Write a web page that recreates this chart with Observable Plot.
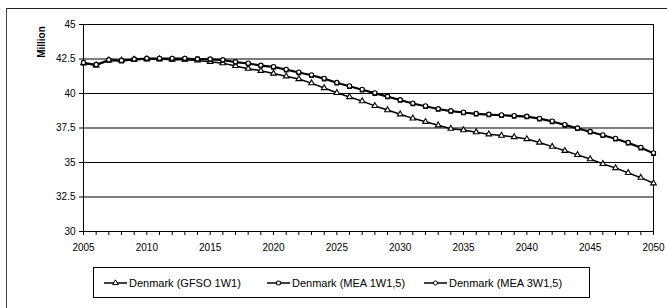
<!DOCTYPE html>
<html><head><meta charset="utf-8">
<script src="https://cdn.jsdelivr.net/npm/d3@7"></script>
<script src="https://cdn.jsdelivr.net/npm/@observablehq/plot@0.6"></script>
<style>
body{margin:0;background:#fff;font-family:"Liberation Sans",Arial,sans-serif;}
#wrap{position:relative;width:667px;height:308px;overflow:hidden;background:#fff;}
#wrap svg.plot{position:absolute;left:0;top:0;}
.border-top{position:absolute;left:6px;top:8px;width:661px;height:0;border-top:1px solid #222;}
.border-left{position:absolute;left:6px;top:8px;width:0;height:300px;border-left:1px solid #444;}
.ylab{position:absolute;left:41px;top:42px;transform:translate(-50%,-50%) rotate(-90deg);font-weight:bold;font-size:10px;color:#000;white-space:nowrap;}
.legend{position:absolute;left:93px;top:267px;width:497px;height:31px;border:1px solid #000;box-sizing:border-box;}
.item{position:absolute;top:0;height:29px;display:flex;align-items:center;font-size:11px;color:#000;white-space:nowrap;}
.item svg{margin-right:2px;}
</style></head><body><div id="wrap"></div>
<script>
const years = [2005,2006,2007,2008,2009,2010,2011,2012,2013,2014,
  2015,2016,2017,2018,2019,2020,2021,2022,2023,2024,
  2025,2026,2027,2028,2029,2030,2031,2032,2033,2034,
  2035,2036,2037,2038,2039,2040,2041,2042,2043,2044,
  2045,2046,2047,2048,2049,2050];
const gfso1w1 = [42.2,42.05,42.4,42.4,42.45,42.5,42.5,42.45,42.45,42.4,
  42.3,42.2,42.0,41.8,41.65,41.45,41.25,41.05,40.75,40.4,
  40.05,39.75,39.45,39.1,38.8,38.5,38.2,37.95,37.7,37.45,
  37.35,37.2,37.05,36.95,36.85,36.7,36.45,36.15,35.85,35.55,
  35.25,34.9,34.6,34.25,33.9,33.5];
const mea1w15 = [42.2,42.05,42.4,42.35,42.45,42.5,42.5,42.5,42.5,42.5,
  42.45,42.4,42.25,42.15,42.0,41.9,41.7,41.5,41.3,41.05,
  40.75,40.5,40.25,40.0,39.75,39.5,39.25,39.05,38.85,38.7,
  38.6,38.5,38.45,38.4,38.35,38.3,38.15,37.95,37.7,37.45,
  37.2,36.95,36.7,36.4,36.05,35.65];
const mea3w15 = [42.25,42.1,42.45,42.4,42.5,42.55,42.55,42.55,42.55,42.5,
  42.5,42.45,42.3,42.2,42.05,41.95,41.75,41.55,41.35,41.1,
  40.8,40.55,40.3,40.05,39.8,39.55,39.3,39.1,38.9,38.75,
  38.65,38.55,38.5,38.45,38.4,38.35,38.2,38.0,37.75,37.5,
  37.25,37.0,36.75,36.45,36.1,35.7];
const seriesNames = ["Denmark (GFSO 1W1)","Denmark (MEA 1W1,5)","Denmark (MEA 3W1,5)"];
const seriesSymbols = ["triangle","square","circle"];
const yTicks = [30,32.5,35,37.5,40,42.5,45];
const xLabelTicks = [2005,2010,2015,2020,2025,2030,2035,2040,2045,2050];

const seriesValues = [gfso1w1, mea1w15, mea3w15];
const rows = [];
seriesValues.forEach((vals, s) => vals.forEach((v, i) => rows.push({series: seriesNames[s], symbol: seriesSymbols[s], year: years[i], value: v})));

const marks = [
  Plot.ruleY(yTicks, {stroke: "#000", strokeWidth: 1.1}),
  Plot.ruleX([years[0], years[years.length-1]], {stroke: "#000", strokeWidth: 1}),
  Plot.axisY(yTicks, {tickSize: 4, tickPadding: 4, fontSize: 10, label: null, tickFormat: d => String(d), stroke: "#000"}),
  Plot.axisX(years, {tickSize: 4, tickPadding: 8, fontSize: 10, label: null, tickFormat: d => xLabelTicks.includes(d) ? String(d) : "", stroke: "#000"})
];
seriesNames.forEach((name, s) => {
  const data = rows.filter(r => r.series === name);
  marks.push(Plot.line(data, {x: "year", y: "value", stroke: "#000", strokeWidth: 1.5}));
  marks.push(Plot.dot(data, {x: "year", y: "value", symbol: () => seriesSymbols[s], r: 2.1, fill: "#fff", stroke: "#000", strokeWidth: 1.1}));
});

const chart = Plot.plot({
  width: 667, height: 308,
  marginLeft: 83, marginRight: 14, marginTop: 24, marginBottom: 77,
  x: {domain: [2005, 2050], axis: null},
  y: {domain: [30, 45], axis: null},
  symbol: {type: "identity"},
  style: {fontFamily: "Liberation Sans, Arial, sans-serif", fontSize: "10px", color: "#000", background: "transparent"},
  marks
});
chart.classList.add("plot");
const wrap = document.getElementById("wrap");
wrap.appendChild(chart);

const bt = document.createElement("div"); bt.className = "border-top"; wrap.appendChild(bt);
const bl = document.createElement("div"); bl.className = "border-left"; wrap.appendChild(bl);
const yl = document.createElement("div"); yl.className = "ylab"; yl.textContent = "Million"; wrap.appendChild(yl);

const legend = document.createElement("div"); legend.className = "legend";
const itemLefts = [10, 173, 330];
seriesNames.forEach((name, s) => {
  const it = document.createElement("div"); it.className = "item"; it.style.left = itemLefts[s] + "px";
  const sym = d3.symbol(s === 0 ? d3.symbolTriangle : s === 1 ? d3.symbolSquare : d3.symbolCircle, 13)();
  it.innerHTML = `<svg width="23" height="10" viewBox="0 0 23 10"><line x1="0" y1="5" x2="23" y2="5" stroke="#000" stroke-width="1.5"/><path d="${sym}" transform="translate(11.5,5)" fill="#fff" stroke="#000" stroke-width="1"/></svg><span>${name}</span>`;
  legend.appendChild(it);
});
wrap.appendChild(legend);
</script></body></html>
